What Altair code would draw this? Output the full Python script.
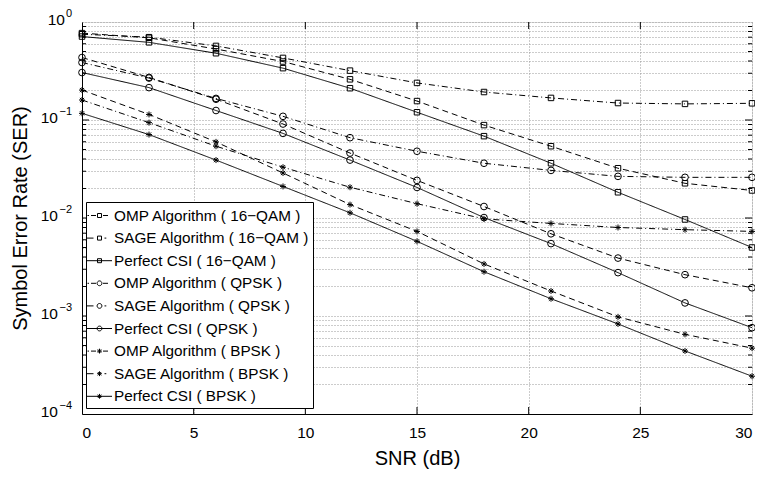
import altair as alt
import pandas as pd

# ---------------- data ----------------
snr = [0, 3, 6, 9, 12, 15, 18, 21, 24, 27, 30]

omp_16qam = [0.75, 0.70, 0.57, 0.43, 0.319, 0.239, 0.193, 0.168, 0.149, 0.146, 0.148]
sage_16qam = [0.77, 0.69, 0.53, 0.395, 0.26, 0.156, 0.0887, 0.054, 0.0322, 0.0226, 0.0191]
perf_16qam = [0.71, 0.62, 0.48, 0.338, 0.211, 0.12, 0.0684, 0.0362, 0.0183, 0.00966, 0.005]

omp_qpsk = [0.386, 0.268, 0.166, 0.109, 0.066, 0.048, 0.0362, 0.0306, 0.0266, 0.026, 0.026]
sage_qpsk = [0.434, 0.272, 0.163, 0.091, 0.046, 0.0242, 0.0131, 0.0069, 0.0039, 0.00264, 0.00194]
perf_qpsk = [0.305, 0.214, 0.125, 0.073, 0.039, 0.0205, 0.0101, 0.00548, 0.00277, 0.00136, 0.00076]

omp_bpsk = [0.16, 0.094, 0.054, 0.033, 0.0206, 0.014, 0.0098, 0.0088, 0.008, 0.0076, 0.0073]
sage_bpsk = [0.202, 0.114, 0.0598, 0.0288, 0.0137, 0.0073, 0.0034, 0.0018, 0.00098, 0.00065, 0.00047]
perf_bpsk = [0.117, 0.071, 0.039, 0.021, 0.0113, 0.00578, 0.00283, 0.0015, 0.00083, 0.00044, 0.000243]

series_names = [
    "OMP Algorithm ( 16\u2212QAM )",
    "SAGE Algorithm ( 16\u2212QAM )",
    "Perfect CSI ( 16\u2212QAM )",
    "OMP Algorithm ( QPSK )",
    "SAGE Algorithm ( QPSK )",
    "Perfect CSI ( QPSK )",
    "OMP Algorithm ( BPSK )",
    "SAGE Algorithm ( BPSK )",
    "Perfect CSI ( BPSK )",
]
series_values = [omp_16qam, sage_16qam, perf_16qam,
                 omp_qpsk, sage_qpsk, perf_qpsk,
                 omp_bpsk, sage_bpsk, perf_bpsk]
methods = ["OMP", "SAGE", "Perfect"]
mods = ["16QAM", "QPSK", "BPSK"]

decade_exps = [0, -1, -2, -3, -4]
x_ticks = [0, 5, 10, 15, 20, 25, 30]
x_inner_ticks = [5, 10, 15, 20, 25]

# ---------------- build tables ----------------
rows = []
for i, (name, vals) in enumerate(zip(series_names, series_values)):
    for s, v in zip(snr, vals):
        rows.append({"snr": s, "ser": v, "series": name,
                     "method": methods[i % 3], "mod": mods[i // 3]})
df = pd.DataFrame(rows)

lab_df = pd.DataFrame({
    "y": [10.0 ** e for e in decade_exps],
    "base": ["10"] * len(decade_exps),
    "sup": [str(e).replace("-", "\u2212") for e in decade_exps],
    "e": decade_exps,
})

grid_vals = [k * 10.0 ** e for e in range(-4, 0) for k in range(1, 10)] + [1.0]
minor_vals = pd.DataFrame({"y": [k * 10.0 ** e for e in range(-4, 0) for k in range(2, 10)]})
major_vals = pd.DataFrame({"y": [10.0 ** e for e in (-3, -2, -1)]})
xt_df = pd.DataFrame({"x": x_inner_ticks})

FONT = "Liberation Sans"

# ---------------- styles ----------------
sq = "M-0.2,-0.2H0.2V0.2H-0.2Z"
ci = "M0.24,0A0.24,0.24,0,1,1,-0.24,0A0.24,0.24,0,1,1,0.24,0Z"
st = "M-0.24,0H0.24M0,-0.24V0.24M-0.17,-0.17L0.17,0.17M-0.17,0.17L0.17,-0.17"
dd = "M-1.2,0H-1.05M-0.85,0H-0.35M0.35,0H0.85"   # dash-dot
da = "M-1.25,0H-0.6M0.5,0H0.68"                  # dashed
so = "M-1.25,0H1.25"                             # solid
legend_paths = []
for m in (sq, ci, st):
    for l in (dd, da, so):
        legend_paths.append(l + m)

asterisk = "M-1,0H1M0,-1V1M-0.7,-0.7L0.7,0.7M-0.7,0.7L0.7,-0.7"

ylog = alt.Scale(type="log", domain=[1e-4, 1], nice=False)
xlin = alt.Scale(domain=[0, 30], nice=False)

base = alt.Chart(df)

lines = base.mark_line(color="black", strokeWidth=1).encode(
    x=alt.X("snr:Q", scale=xlin,
            axis=alt.Axis(values=x_ticks, grid=True, gridDash=[1, 2], gridColor="#999999",
                          ticks=False, tickSize=0, labelPadding=11, labelFontSize=15.5,
                          labelFont=FONT, labelColor="black", domainColor="black",
                          title="SNR (dB)", titleFont=FONT, titleFontSize=20,
                          titleFontWeight="normal", titleColor="black",
                          titleX=335, titleY=44, titleBaseline="middle")),
    y=alt.Y("ser:Q", scale=ylog,
            axis=alt.Axis(values=grid_vals, grid=True, gridDash=[1, 2], gridColor="#999999",
                          labels=False, ticks=False, tickSize=0, domainColor="black",
                          title="Symbol Error Rate (SER)", titleFont=FONT, titleFontSize=20,
                          titleFontWeight="normal", titleColor="black",
                          titleX=-62, titleY=196, titleBaseline="middle", titleAlign="center",
                          titleAngle=270)),
    strokeDash=alt.StrokeDash("method:N",
                              scale=alt.Scale(domain=methods, range=[[6, 3, 1, 3], [6, 4], [1, 0]]),
                              legend=None),
    detail="series:N",
)

pts_sq = base.transform_filter(alt.datum.mod == "16QAM").mark_point(
    shape="square", size=30, filled=False, color="black", strokeWidth=1, opacity=1
).encode(x="snr:Q", y="ser:Q")
pts_ci = base.transform_filter(alt.datum.mod == "QPSK").mark_point(
    shape="circle", size=45, filled=False, color="black", strokeWidth=1, opacity=1
).encode(x="snr:Q", y="ser:Q")
pts_st = base.transform_filter(alt.datum.mod == "BPSK").mark_point(
    shape=asterisk, size=36, filled=False, color="black", strokeWidth=1, opacity=1
).encode(x="snr:Q", y="ser:Q")

legend_layer = base.transform_filter("false").mark_point(
    filled=False, color="black", strokeWidth=1, opacity=1
).encode(
    x="snr:Q", y="ser:Q",
    shape=alt.Shape("series:N",
                    scale=alt.Scale(domain=series_names, range=legend_paths),
                    legend=alt.Legend(orient="none", legendX=4, legendY=180, title=None,
                                      strokeColor="black", fillColor="white", padding=3,
                                      symbolSize=400, symbolStrokeWidth=1,
                                      symbolStrokeColor="black",
                                      labelFont=FONT, labelFontSize=15.3, labelColor="black",
                                      labelOffset=4, labelLimit=0, rowPadding=3.6,
                                      cornerRadius=0)),
)

# inward axis ticks (MATLAB style)
tick_kw = dict(color="black", thickness=1, opacity=1)
MINOR, MAJOR = 4, 7
yt_minor = alt.Chart(minor_vals).mark_tick(size=MINOR, **tick_kw)
yt_major = alt.Chart(major_vals).mark_tick(size=MAJOR, **tick_kw)
ytick_layers = []
for ch, L in ((yt_minor, MINOR), (yt_major, MAJOR)):
    for xv in (L / 2, 670 - L / 2):
        ytick_layers.append(ch.encode(x=alt.value(xv), y=alt.Y("y:Q", scale=ylog)))
xtick_layers = [
    alt.Chart(xt_df).mark_tick(size=MAJOR, **tick_kw).encode(
        x=alt.X("x:Q", scale=xlin), y=alt.value(yv))
    for yv in (MAJOR / 2, 392 - MAJOR / 2)
]

lab = alt.Chart(lab_df)
lab_base0 = lab.transform_filter(alt.datum.e == 0).mark_text(
    align="right", baseline="middle", fontSize=15.5, font=FONT, color="black", dy=-2
).encode(x=alt.value(-17), y=alt.Y("y:Q", scale=ylog), text="base:N")
lab_base = lab.transform_filter(alt.datum.e != 0).mark_text(
    align="right", baseline="middle", fontSize=15.5, font=FONT, color="black", dy=-2
).encode(x=alt.value(-24), y=alt.Y("y:Q", scale=ylog), text="base:N")
lab_sup = lab.mark_text(
    align="right", baseline="middle", fontSize=11, font=FONT, color="black", dy=-8
).encode(x=alt.value(-10), y=alt.Y("y:Q", scale=ylog), text="sup:N")

chart = alt.layer(lines, *ytick_layers, *xtick_layers, pts_sq, pts_ci, pts_st, legend_layer,
                  lab_base0, lab_base, lab_sup).properties(
    width=670, height=392,
    padding={"left": 74, "top": 14, "right": 3, "bottom": 60},
    autosize=alt.AutoSizeParams(type="none"),
).configure_view(stroke="black", strokeWidth=1).configure(background="white")

chart.save("out.html", embed_options={"renderer": "svg", "actions": False})
